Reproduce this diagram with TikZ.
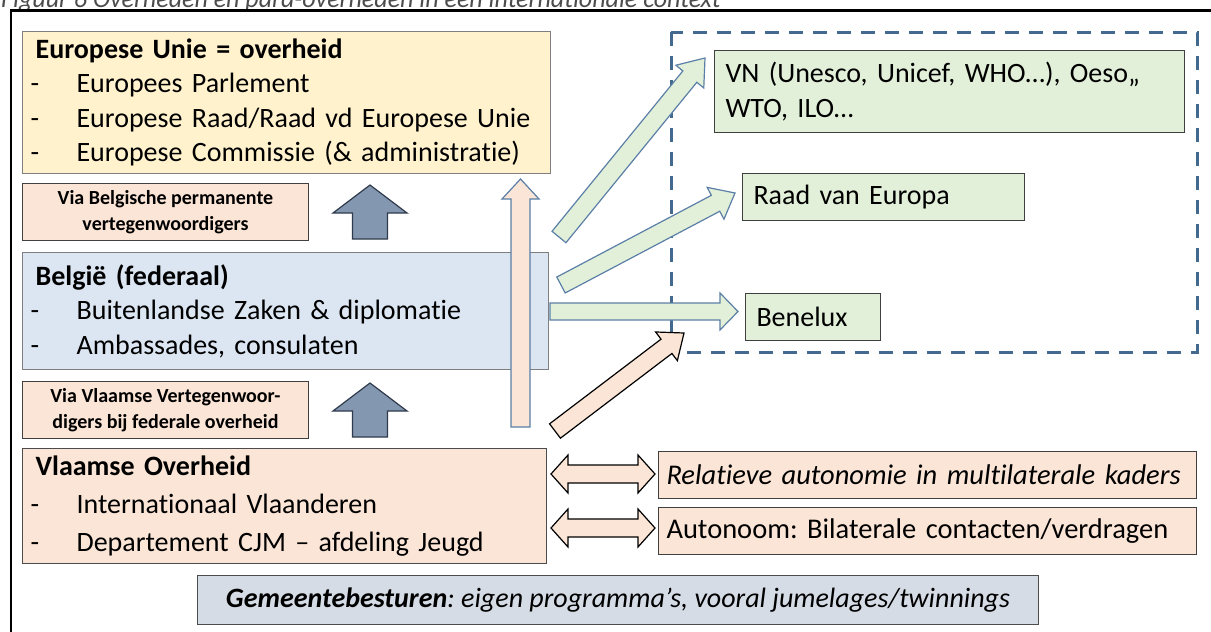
\documentclass[tikz,border=0pt]{standalone}
\usepackage{fontspec}
\setmainfont{Carlito}[Ligatures=NoCommon]
\usetikzlibrary{calc}
\definecolor{euf}{HTML}{FFF2CC}
\definecolor{bef}{HTML}{DCE6F2}
\definecolor{pkf}{HTML}{FBE5D6}
\definecolor{grf}{HTML}{E2F0D9}
\definecolor{gmf}{HTML}{D6DCE5}
\definecolor{dkf}{HTML}{8497B0}
\definecolor{dkd}{HTML}{2F3B4C}
\definecolor{dashcol}{HTML}{44698F}
\definecolor{arb}{HTML}{5B7FA6}
\definecolor{gbd}{HTML}{7F7F7F}
\newcommand\li[1]{\hspace*{-5pt}\makebox[46pt][l]{-}#1}
\newcommand\blockarrow[6]{%
  \coordinate (bah) at ($(#3)!#6!(#2)$);
  \draw[#1] ($(#2)!#4!90:(#3)$) -- ($(bah)!#4!90:(#3)$) -- ($(bah)!#5!90:(#3)$) -- (#3)
    -- ($(bah)!#5!-90:(#3)$) -- ($(bah)!#4!-90:(#3)$) -- ($(#2)!#4!-90:(#3)$) -- cycle;}
\newcommand\dblarrow[6]{%
  \coordinate (dah1) at ($(#2)!#6!(#3)$);
  \coordinate (dah2) at ($(#3)!#6!(#2)$);
  \draw[#1] (#2) -- ($(dah1)!#5!90:(#3)$) -- ($(dah1)!#4!90:(#3)$) -- ($(dah2)!#4!90:(#3)$)
    -- ($(dah2)!#5!90:(#3)$) -- (#3) -- ($(dah2)!#5!-90:(#3)$) -- ($(dah2)!#4!-90:(#3)$)
    -- ($(dah1)!#4!-90:(#3)$) -- ($(dah1)!#5!-90:(#3)$) -- cycle;}
\frenchspacing
\begin{document}
\begin{tikzpicture}[x=1pt,y=-1pt,
  bigbox/.style={draw=gbd,line width=1.2pt,anchor=north west,align=left,inner xsep=13pt,
    font=\fontsize{28}{34.5}\selectfont},
  viabox/.style={draw=black!75,line width=1pt,fill=pkf,anchor=north west,align=center,
    minimum width=286pt,minimum height=57pt,inner sep=0pt,font=\fontsize{20}{26}\selectfont\bfseries},
  greenbox/.style={draw=black!75,line width=1pt,fill=grf,anchor=north west,align=left,
    inner xsep=11pt,font=\fontsize{28}{35}\selectfont},
  pinkbox/.style={draw=black!75,line width=1pt,fill=pkf,anchor=north west,align=left,
    inner xsep=8pt,minimum width=538pt,minimum height=47pt,font=\fontsize{28.5}{32}\selectfont},
  darrow/.style={draw=dkd,line width=1.2pt,fill=dkf,line join=miter},
  garrow/.style={draw=arb,line width=1.2pt,fill=grf},
  parrow/.style={draw=arb,line width=1.2pt,fill=pkf},
  karrow/.style={draw=black,line width=1.2pt,fill=pkf},
]
\useasboundingbox (0,0) rectangle (1211,632);
% caption and frame
\node[anchor=base west,inner sep=0pt,text=black!70,font=\fontsize{26}{30}\selectfont\itshape] (cap) at (1,7)
  {Figuur 6 Overheden en para-overheden in een internationale context};
\draw[line width=2.5pt] (1230,10.5) -- (11,10.5) -- (11,650);
% dashed region
\draw[dashcol,line width=3pt,dash pattern=on 14pt off 10pt] (671,32) rectangle (1197,352);
% left column
\node[bigbox,fill=euf,minimum width=528pt,minimum height=142pt,text width=502pt] (eu) at (22,31)
  {\textbf{Europese Unie = overheid}\\\li{Europees Parlement}\\\li{Europese Raad/Raad vd Europese Unie}\\\li{Europese Commissie (\& administratie)}};
\node[viabox] (via1) at (22,183) {Via Belgische permanente\\vertegenwoordigers};
\node[bigbox,fill=bef,minimum width=526pt,minimum height=117pt,text width=500pt] (be) at (22,252)
  {\textbf{België (federaal)}\\\li{Buitenlandse Zaken \& diplomatie}\\\li{Ambassades, consulaten}};
\node[viabox] (via2) at (22,381) {Via Vlaamse Vertegenwoor-\\digers bij federale overheid};
\node[bigbox,draw=black!70,fill=pkf,minimum width=524pt,minimum height=115pt,text width=498pt,
  font=\fontsize{28}{38}\selectfont] (vl) at (22,448)
  {\textbf{Vlaamse Overheid}\\\li{Internationaal Vlaanderen}\\\li{Departement CJM – afdeling Jeugd}};
% right boxes
\node[greenbox,minimum width=470pt,minimum height=82pt,text width=448pt] (vn) at (714,50)
  {VN (Unesco, Unicef, WHO…), Oeso,,\\WTO, ILO…};
\node[greenbox,minimum width=282pt,minimum height=47pt,text width=260pt] (rve) at (742,173) {Raad van Europa};
\node[greenbox,minimum width=135pt,minimum height=47pt,text width=113pt] (bnl) at (745,293) {Benelux};
\node[pinkbox,text width=522pt] (rel) at (658,451) {\itshape Relatieve autonomie in multilaterale kaders};
\node[pinkbox,text width=522pt] (aut) at (658,507) {Autonoom: Bilaterale contacten/verdragen};
\node[draw=black!70,line width=1pt,fill=gmf,anchor=north west,minimum width=841pt,minimum height=49pt,
  font=\fontsize{28}{32}\selectfont\itshape] (gem) at (197,575)
  {\textbf{Gemeentebesturen}: eigen programma’s, vooral jumelages/twinnings};
% arrow end points
\coordinate (d1s) at (370,239); \coordinate (d1e) at (370,185);
\coordinate (d2s) at (370,437); \coordinate (d2e) at (370,383);
\coordinate (ps) at (520.5,427); \coordinate (pe) at (520.5,179);
\coordinate (g1s) at (559,237); \coordinate (g1e) at (705,58);
\coordinate (g2s) at (561,285); \coordinate (g2e) at (735,193);
\coordinate (g3s) at (550,311.5); \coordinate (g3e) at (738,311.5);
\coordinate (k1s) at (555,431); \coordinate (k1e) at (684,333);
\coordinate (a1s) at (551,474); \coordinate (a1e) at (655,474);
\coordinate (a2s) at (551,528); \coordinate (a2e) at (655,528);
% arrows
\blockarrow{darrow}{d1s}{d1e}{17.5pt}{37pt}{28pt}
\blockarrow{darrow}{d2s}{d2e}{17.5pt}{37pt}{28pt}
\blockarrow{parrow}{ps}{pe}{9.5pt}{18.5pt}{20pt}
\blockarrow{garrow}{g1s}{g1e}{9pt}{18pt}{24pt}
\blockarrow{garrow}{g2s}{g2e}{9pt}{18pt}{22pt}
\blockarrow{garrow}{g3s}{g3e}{8.5pt}{18.5pt}{18pt}
\blockarrow{karrow}{k1s}{k1e}{9pt}{18pt}{22pt}
\dblarrow{karrow}{a1s}{a1e}{9pt}{19pt}{17pt}
\dblarrow{karrow}{a2s}{a2e}{9pt}{19pt}{17pt}
\end{tikzpicture}
\end{document}
